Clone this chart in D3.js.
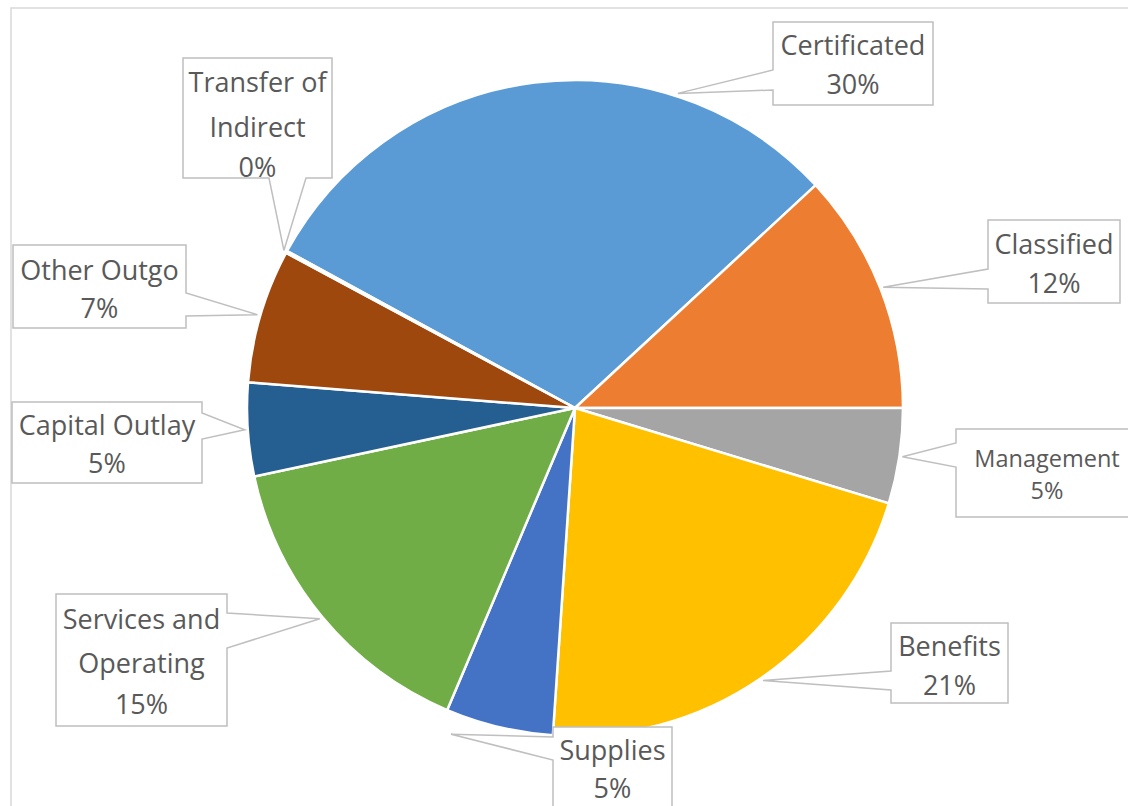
<!DOCTYPE html>
<html>
<head>
<meta charset="utf-8">
<script src="https://cdn.jsdelivr.net/npm/d3@7"></script>
<style>
  html, body { margin: 0; padding: 0; background: #fff; }
  svg { display: block; }
</style>
</head>
<body>
<svg id="chart" width="1128" height="806"></svg>
<script>
// ---- data ----
const categories = ["Certificated", "Classified", "Management", "Benefits", "Supplies",
  "Services and Operating", "Capital Outlay", "Other Outgo", "Transfer of Indirect"];
const values = [30.2, 11.9, 4.7, 21.4, 5.3, 15.3, 4.6, 6.6, 0.1];
const labelLines = [["Certificated"], ["Classified"], ["Management"], ["Benefits"], ["Supplies"],
  ["Services and", "Operating"], ["Capital Outlay"], ["Other Outgo"], ["Transfer of", "Indirect"]];

// ---- style / layout ----
const colors = ["#5B9BD5", "#ED7D31", "#A5A5A5", "#FFC000", "#4472C4",
  "#70AD47", "#255E91", "#9E480E", "#636363"];
const cx = 575, cy = 408, R = 328;
const startDeg = -61.4;
const labelLayout = [
  { box: [773, 22, 160, 83],  side: "left",   notch: [70, 90],   lines: [45, 84],        tipDeg: 18.1, tipR: 331 },
  { box: [988, 220, 132, 83], side: "left",   notch: [269, 289], lines: [244, 283] },
  { box: [956, 429, 182, 88], side: "left",   notch: [443, 467], lines: [459, 491], fs: 23.5 },
  { box: [891, 623, 117, 80], side: "left",   notch: [671, 690], lines: [646, 685] },
  { box: [553, 727, 119, 95], side: "left",   notch: [737, 760], lines: [750, 788],       tipDeg: 200.8, tipR: 349 },
  { box: [56, 594, 171, 132], side: "right",  notch: [613, 648], lines: [619, 663, 704] },
  { box: [12, 402, 190, 81],  side: "right",  notch: [413, 439], lines: [425, 463] },
  { box: [13, 245, 173, 83],  side: "right",  notch: [293, 316], lines: [270, 308] },
  { box: [183, 58, 149, 120], side: "bottom", notch: [269, 306], lines: [82, 127, 167] }
];

const svg = d3.select("#chart");

// outer chart border
svg.append("rect").attr("x", 11).attr("y", 8).attr("width", 1140).attr("height", 820)
  .attr("fill", "none").attr("stroke", "#D9D9D9").attr("stroke-width", 1.5);

const total = d3.sum(values);
const data = categories.map((c, i) => ({ name: c, value: values[i], i }));

const toRad = d => d * Math.PI / 180;
const pie = d3.pie().value(d => d.value).sort(null)
  .startAngle(toRad(startDeg)).endAngle(toRad(startDeg + 360));
const arcs = pie(data);
const arc = d3.arc().innerRadius(0).outerRadius(R);

const g = svg.append("g").attr("transform", `translate(${cx},${cy})`);
g.selectAll("path.slice").data(arcs).join("path")
  .attr("class", "slice")
  .attr("d", arc)
  .attr("fill", d => colors[d.data.i])
  .attr("stroke", "#fff")
  .attr("stroke-width", 2.5)
  .attr("stroke-linejoin", "round");

// callout labels
const polar = (deg, r) => [cx + r * Math.sin(toRad(deg)), cy - r * Math.cos(toRad(deg))];
const fmt = v => Math.round(v / total * 100) + "%";

arcs.forEach((a, k) => {
  const L = labelLayout[k];
  const [x, y, w, h] = L.box;
  const midDeg = (a.startAngle + a.endAngle) / 2 * 180 / Math.PI;
  const tip = polar(L.tipDeg !== undefined ? L.tipDeg : midDeg, L.tipR || R + 3);
  const [n1, n2] = L.notch;
  let pts;
  if (L.side === "left") {
    pts = [[x, y], [x + w, y], [x + w, y + h], [x, y + h], [x, n2], tip, [x, n1]];
  } else if (L.side === "right") {
    pts = [[x, y], [x + w, y], [x + w, n1], tip, [x + w, n2], [x + w, y + h], [x, y + h]];
  } else {
    pts = [[x, y], [x + w, y], [x + w, y + h], [n2, y + h], tip, [n1, y + h], [x, y + h]];
  }
  svg.append("path")
    .attr("d", d3.line()(pts) + "Z")
    .attr("fill", "#fff")
    .attr("stroke", "#BFBFBF")
    .attr("stroke-width", 1.5)
    .attr("stroke-linejoin", "miter");

  const fs = L.fs || 27;
  const texts = labelLines[k].concat([fmt(a.data.value)]);
  const t = svg.append("text")
    .attr("font-family", "'Open Sans', 'Noto Sans', sans-serif")
    .attr("font-size", fs)
    .attr("fill", "#595959")
    .attr("text-anchor", "middle");
  texts.forEach((s, j) => {
    t.append("tspan").attr("x", x + w / 2).attr("y", L.lines[j] + fs * 0.36).text(s);
  });
});
</script>
</body>
</html>
